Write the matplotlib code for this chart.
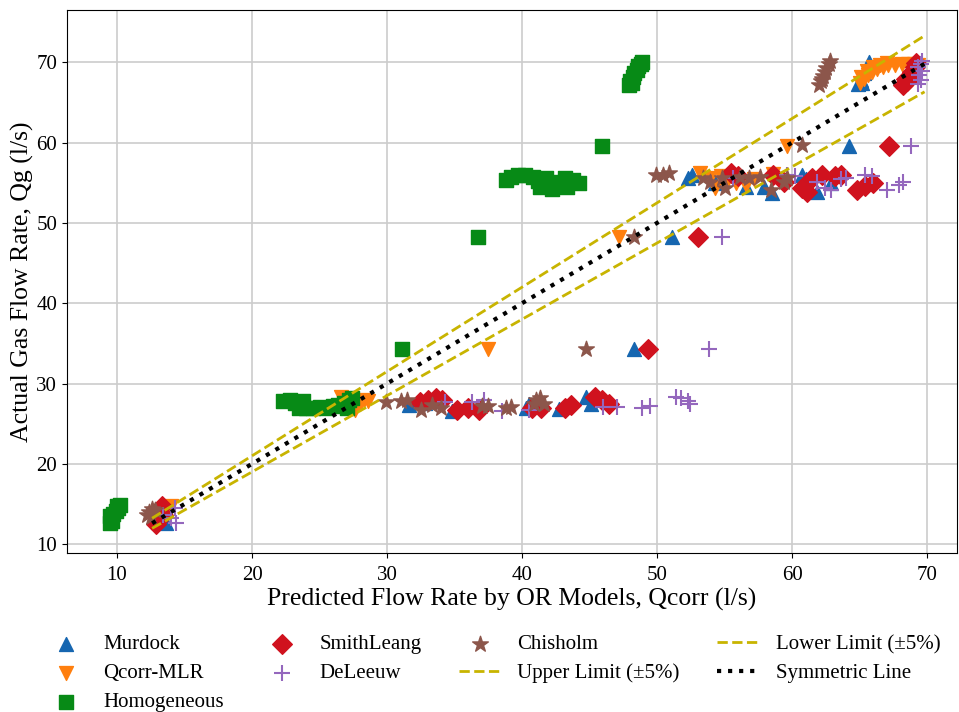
import matplotlib
matplotlib.use("Agg")
import matplotlib.pyplot as plt
import numpy as np

plt.rcParams["font.family"] = ["Liberation Serif", "DejaVu Serif"]

# Predicted (x) vs actual (y) gas flow rates for each model
murdock_x = [13.0, 13.3, 13.6, 13.2,
             31.6, 32.8, 34.8, 40.3, 40.5, 42.7, 44.7, 45.1,
             48.3, 51.1,
             52.3, 52.6, 54.3, 56.6, 57.9, 58.5, 60.7, 61.8, 62.9, 61.0,
             64.2,
             64.9, 65.1, 65.3, 65.5, 65.7, 65.2]
murdock_y = [12.7, 12.9, 12.6, 13.4,
             27.3, 27.6, 26.6, 27.0, 27.4, 26.8, 28.3, 27.5,
             34.3, 48.2,
             55.6, 56.0, 55.0, 54.5, 54.5, 53.7, 56.0, 53.9, 55.0, 55.5,
             59.6,
             67.3, 67.8, 68.6, 69.4, 70.0, 67.4]

qcorr_x = [12.8, 13.5, 14.0, 13.2, 13.8,
           26.6, 27.0, 27.3, 27.6, 28.0, 28.3, 28.6, 26.9,
           37.5, 47.2,
           53.2, 53.9, 54.3, 54.7, 55.2, 56.6, 57.2, 58.6, 55.8,
           59.6,
           65.0, 65.3, 65.6, 65.9, 66.3, 66.7, 67.1, 67.6, 68.1, 68.6, 69.0, 69.3,
           65.1, 65.5, 66.0, 66.5, 67.0]
qcorr_y = [12.9, 14.2, 14.8, 13.5, 14.6,
           28.3, 27.6, 27.0, 26.7, 27.4, 28.0, 27.8, 28.0,
           34.3, 48.2,
           56.2, 55.6, 54.3, 55.8, 55.2, 54.7, 55.5, 56.1, 55.0,
           59.6,
           67.4, 67.9, 68.4, 68.8, 69.1, 69.4, 69.6, 69.7, 69.8, 69.8, 69.8, 69.7,
           68.2, 68.9, 69.4, 69.7, 69.9]

homog_x = [9.5, 9.6, 9.5, 9.7, 9.9, 10.1, 10.2, 10.0,
           22.3, 22.8, 23.2, 23.5, 24.0, 24.5, 25.0, 25.5, 26.0, 26.4, 26.8, 27.2, 27.4, 27.0, 23.8,
           31.1, 36.7,
           38.8, 39.2, 39.7, 40.8, 41.2, 41.3, 41.8, 42.2, 42.5, 43.2, 43.3, 43.8, 44.2, 40.2,
           45.9,
           47.9, 48.0, 48.2, 48.3, 48.5, 48.6, 48.8, 48.9, 48.1]
homog_y = [12.6, 12.9, 13.5, 13.8, 14.1, 14.5, 14.9, 14.8,
           27.8, 27.9, 27.6, 26.9, 27.0, 26.9, 27.1, 26.9, 27.2, 27.3, 27.6, 27.9, 28.2, 27.0, 27.8,
           34.3, 48.2,
           55.3, 55.7, 56.0, 55.7, 55.2, 54.5, 55.6, 54.2, 55.1, 55.6, 54.5, 55.3, 55.0, 55.9,
           59.6,
           67.2, 67.6, 68.1, 68.6, 69.0, 69.5, 69.8, 70.0, 67.4]

smith_x = [12.9, 13.0, 13.1, 13.3, 13.4,
           32.4, 33.6, 34.1, 35.2, 36.0, 36.8, 40.7, 41.4, 43.2, 43.6, 45.4, 45.9, 46.4, 33.0,
           49.3, 53.0,
           55.5, 56.0, 58.6, 59.4, 60.7, 61.1, 61.5, 62.2, 63.2, 63.6, 64.8, 65.4, 66.0,
           67.2,
           68.2, 68.5, 68.7, 68.9, 69.1, 69.2, 68.4]
smith_y = [12.5, 13.3, 14.0, 14.7, 13.6,
           27.7, 28.2, 28.0, 26.7, 27.0, 26.7, 27.0, 27.0, 26.9, 27.3, 28.3, 27.9, 27.5, 28.0,
           34.3, 48.2,
           56.2, 55.8, 56.0, 55.1, 54.3, 53.8, 55.6, 56.0, 55.8, 56.0, 54.1, 54.6, 55.0,
           59.6,
           67.2, 67.6, 68.1, 68.8, 69.4, 69.9, 67.9]

deleeuw_x = [13.4, 14.3, 14.4, 14.0,
             34.3, 36.3, 37.2, 38.5, 40.5, 46.0, 47.0, 48.9, 49.5, 51.4, 51.8, 52.3, 52.4,
             53.8, 54.8,
             55.6, 59.6, 60.2, 61.8, 62.4, 62.9, 63.6, 64.0, 65.4, 65.9, 67.0, 67.9, 68.2,
             68.8,
             69.3, 69.5, 69.4, 69.6, 69.3, 69.5, 69.6]
deleeuw_y = [13.6, 14.5, 12.6, 13.2,
             27.7, 27.7, 28.0, 26.6, 26.7, 27.1, 27.1, 26.9, 27.2, 28.3, 28.2, 27.8, 27.5,
             34.3, 48.2,
             55.6, 56.0, 55.8, 55.1, 54.3, 54.1, 55.4, 55.6, 56.0, 55.8, 54.1, 54.7, 55.1,
             59.6,
             67.3, 67.8, 68.4, 68.9, 69.4, 69.8, 70.2]

chisholm_x = [12.2, 12.4, 12.6, 12.8, 12.5,
              29.9, 31.0, 31.5, 32.5, 33.3, 34.0, 37.0, 37.5, 38.8, 39.2, 41.0, 41.3, 41.6, 40.9,
              44.7, 48.3,
              49.9, 50.4, 50.9, 53.4, 53.9, 54.8, 55.0, 56.1, 56.8, 57.6, 58.4, 59.4, 59.6,
              60.7,
              62.0, 62.1, 62.3, 62.4, 62.5, 62.7, 62.8, 62.2]
chisholm_y = [13.6, 14.0, 14.4, 14.2, 13.4,
              27.7, 27.8, 28.0, 26.7, 27.3, 26.9, 27.2, 27.2, 26.9, 27.1, 27.9, 28.2, 27.5, 27.4,
              34.3, 48.3,
              56.0, 56.0, 56.2, 55.6, 55.1, 55.6, 54.3, 55.7, 55.6, 55.7, 54.1, 55.1, 55.6,
              59.7,
              67.2, 67.7, 68.3, 68.8, 69.3, 69.8, 70.1, 67.9]

line_x = np.array([12.6, 69.8])
tolerance = 0.05

fig = plt.figure(figsize=(9.59, 7.12), dpi=100)
ax = fig.add_axes([0.0699, 0.2233, 0.928, 0.7627])

s = 100
ax.scatter(murdock_x, murdock_y, marker="^", s=s, color="#1666b0", label="Murdock", zorder=3)
ax.scatter(qcorr_x, qcorr_y, marker="v", s=s, color="#ff7f0e", label="Qcorr-MLR", zorder=3)
ax.scatter(homog_x, homog_y, marker="s", s=s * 0.9, color="#078a16", label="Homogeneous", zorder=3)
ax.scatter(smith_x, smith_y, marker="D", s=s, color="#d0121e", label="SmithLeang", zorder=3)
ax.scatter(deleeuw_x, deleeuw_y, marker="+", s=s * 1.3, color="#9467bd", linewidths=1.5,
           label="DeLeeuw", zorder=3)
ax.scatter(chisholm_x, chisholm_y, marker="*", s=s * 1.4, color="#8c564b", label="Chisholm", zorder=3)

ax.plot(line_x, line_x * (1 + tolerance), "--", color="#c8b400", lw=2,
        label="Upper Limit (\u00b15%)", zorder=4)
ax.plot(line_x, line_x * (1 - tolerance), "--", color="#c8b400", lw=2,
        label="Lower Limit (\u00b15%)", zorder=4)
ax.plot(line_x, line_x, ":", color="black", lw=3, label="Symmetric Line", zorder=5)

ax.set_xlim(6.3, 72.2)
ax.set_ylim(8.9, 76.5)
ax.set_xticks(np.arange(10, 71, 10))
ax.set_yticks(np.arange(10, 71, 10))
ax.tick_params(labelsize=15)
ax.tick_params(axis="x", pad=6)
ax.grid(True, color="#cccccc", lw=1.2)
ax.set_axisbelow(True)
ax.set_xlabel("Predicted Flow Rate by OR Models, Qcorr (l/s)", fontsize=18.5, labelpad=2)
ax.set_ylabel("Actual Gas Flow Rate, Qg (l/s)", fontsize=18.5, labelpad=2)

fig.legend(loc="upper left", bbox_to_anchor=(0.0271, 0.1348), ncol=4, frameon=False,
           fontsize=15, columnspacing=1.8, labelspacing=0.45)

plt.savefig("out.png", dpi=100)
